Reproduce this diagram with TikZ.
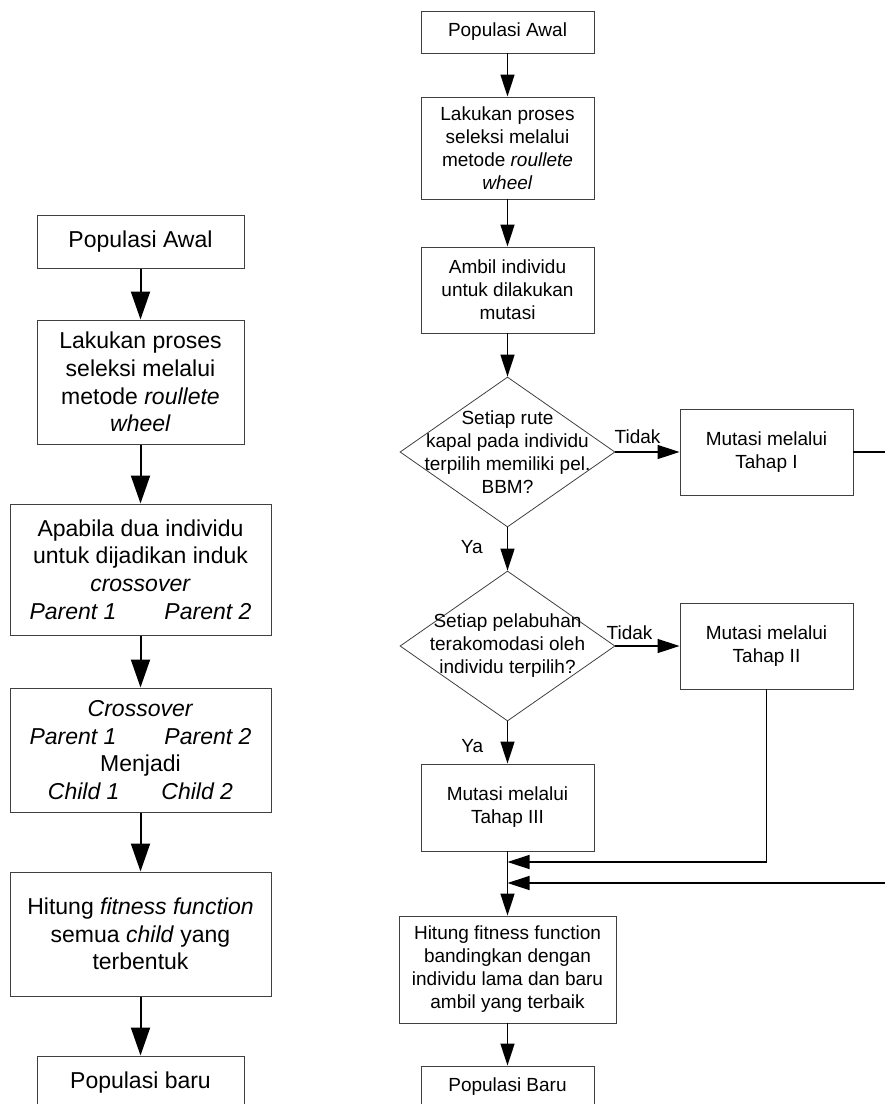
\documentclass[tikz,border=0pt]{standalone}
\usepackage{fontspec}
\setmainfont{Liberation Sans}
\usetikzlibrary{arrows.meta,shapes.geometric}

\begin{document}
\begin{tikzpicture}[x=1pt,y=-1pt,
  boxL/.style={draw=black!75,line width=1pt,inner sep=0pt,align=center,
    font=\fontsize{23}{27.7}\selectfont,minimum width=207pt},
  boxR/.style={draw=black!75,line width=0.9pt,inner sep=0pt,align=center,
    font=\fontsize{19}{23}\selectfont,minimum width=173pt},
  decision/.style={diamond,draw=black!75,line width=0.8pt,inner sep=0pt,
    minimum width=215pt,minimum height=150pt},
  txtR/.style={align=center,font=\fontsize{19}{23}\selectfont,inner sep=0pt},
  arrL/.style={line width=2pt,-{Triangle[length=28pt,width=19pt]}},
  arrR/.style={line width=1.4pt,-{Triangle[length=22pt,width=14pt]}}]
\useasboundingbox (0,0) rectangle (885,1104);
\clip (0,0) rectangle (885,1104);

% left flowchart
\node[boxL,minimum height=53pt] (l1) at (140.5,241.5) {Populasi Awal};
\node[boxL,minimum height=124pt] (l2) at (140.5,382)
  {Lakukan proses\\seleksi melalui\\metode \textit{roullete}\\\textit{wheel}};
\node[boxL,minimum height=131pt,minimum width=261pt] (l3) at (140.5,569.5)
  {Apabila dua individu\\untuk dijadikan induk\\\textit{crossover}\\
   \textit{Parent 1}\hspace{48pt}\textit{Parent 2}};
\node[boxL,minimum height=124pt,minimum width=261pt] (l4) at (140.5,750)
  {\textit{Crossover}\\\textit{Parent 1}\hspace{48pt}\textit{Parent 2}\\Menjadi\\
   \textit{Child 1}\hspace{42pt}\textit{Child 2}};
\node[boxL,minimum height=124pt,minimum width=261pt] (l5) at (140.5,934)
  {Hitung \textit{fitness function}\\semua \textit{child} yang\\terbentuk};
\node[boxL,minimum height=53pt] (l6) at (140.5,1082.5) {Populasi baru};

\draw[arrL] (l1) -- (l2);
\draw[arrL] (l2) -- (l3);
\draw[arrL] (l3) -- (l4);
\draw[arrL] (l4) -- (l5);
\draw[arrL] (l5) -- (l6);

% right flowchart
\node[boxR,minimum height=42pt] (r1) at (507.5,32) {Populasi Awal};
\node[boxR,minimum height=102pt] (r2) at (507.5,148)
  {Lakukan proses\\seleksi melalui\\metode \textit{roullete}\\\textit{wheel}};
\node[boxR,minimum height=86pt] (r3) at (507.5,290)
  {Ambil individu\\untuk dilakukan\\mutasi};
\node[decision] (d1) at (507.5,452) {};
\node[txtR] (d1t) at (d1) {Setiap rute\\kapal pada individu\\terpilih memiliki pel.\\BBM?};
\node[boxR,minimum height=86pt] (t1) at (766.5,452) {Mutasi melalui\\Tahap I};
\node[decision] (d2) at (507.5,646) {};
\node[txtR] (d2t) at (d2) {Setiap pelabuhan\\terakomodasi oleh\\individu terpilih?};
\node[boxR,minimum height=86pt] (t2) at (766.5,646) {Mutasi melalui\\Tahap II};
\node[boxR,minimum height=87pt] (t3) at (507.5,807.5) {Mutasi melalui\\Tahap III};
\node[boxR,minimum height=107pt,minimum width=217pt] (r4) at (507.5,969.5)
  {Hitung fitness function\\bandingkan dengan\\individu lama dan baru\\ambil yang terbaik};
\node[boxR,minimum height=42pt] (r5) at (507.5,1087) {Populasi Baru};

\node[txtR] (no1) at (637.5,437) {Tidak};
\node[txtR] (no2) at (629.5,633) {Tidak};
\node[txtR] (ya1) at (471.7,546.7) {Ya};
\node[txtR] (ya2) at (472.3,745.7) {Ya};

\coordinate (e1) at (885,452);
\coordinate (e2) at (885,883);
\coordinate (m1) at (507.5,862);
\coordinate (m2) at (507.5,883);

\draw[arrR] (r1) -- (r2);
\draw[arrR] (r2) -- (r3);
\draw[arrR] (r3) -- (d1);
\draw[arrR] (d1) -- (t1);
\draw[arrR] (d1) -- (d2);
\draw[arrR] (d2) -- (t2);
\draw[arrR] (d2) -- (t3);
\draw[line width=1.4pt] (t1) -- (e1);
\draw[arrR] (t2) |- (m1);
\draw[arrR] (e2) -- (m2);
\draw[arrR] (t3) -- (r4);
\draw[arrR] (r4) -- (r5);

\end{tikzpicture}
\end{document}
